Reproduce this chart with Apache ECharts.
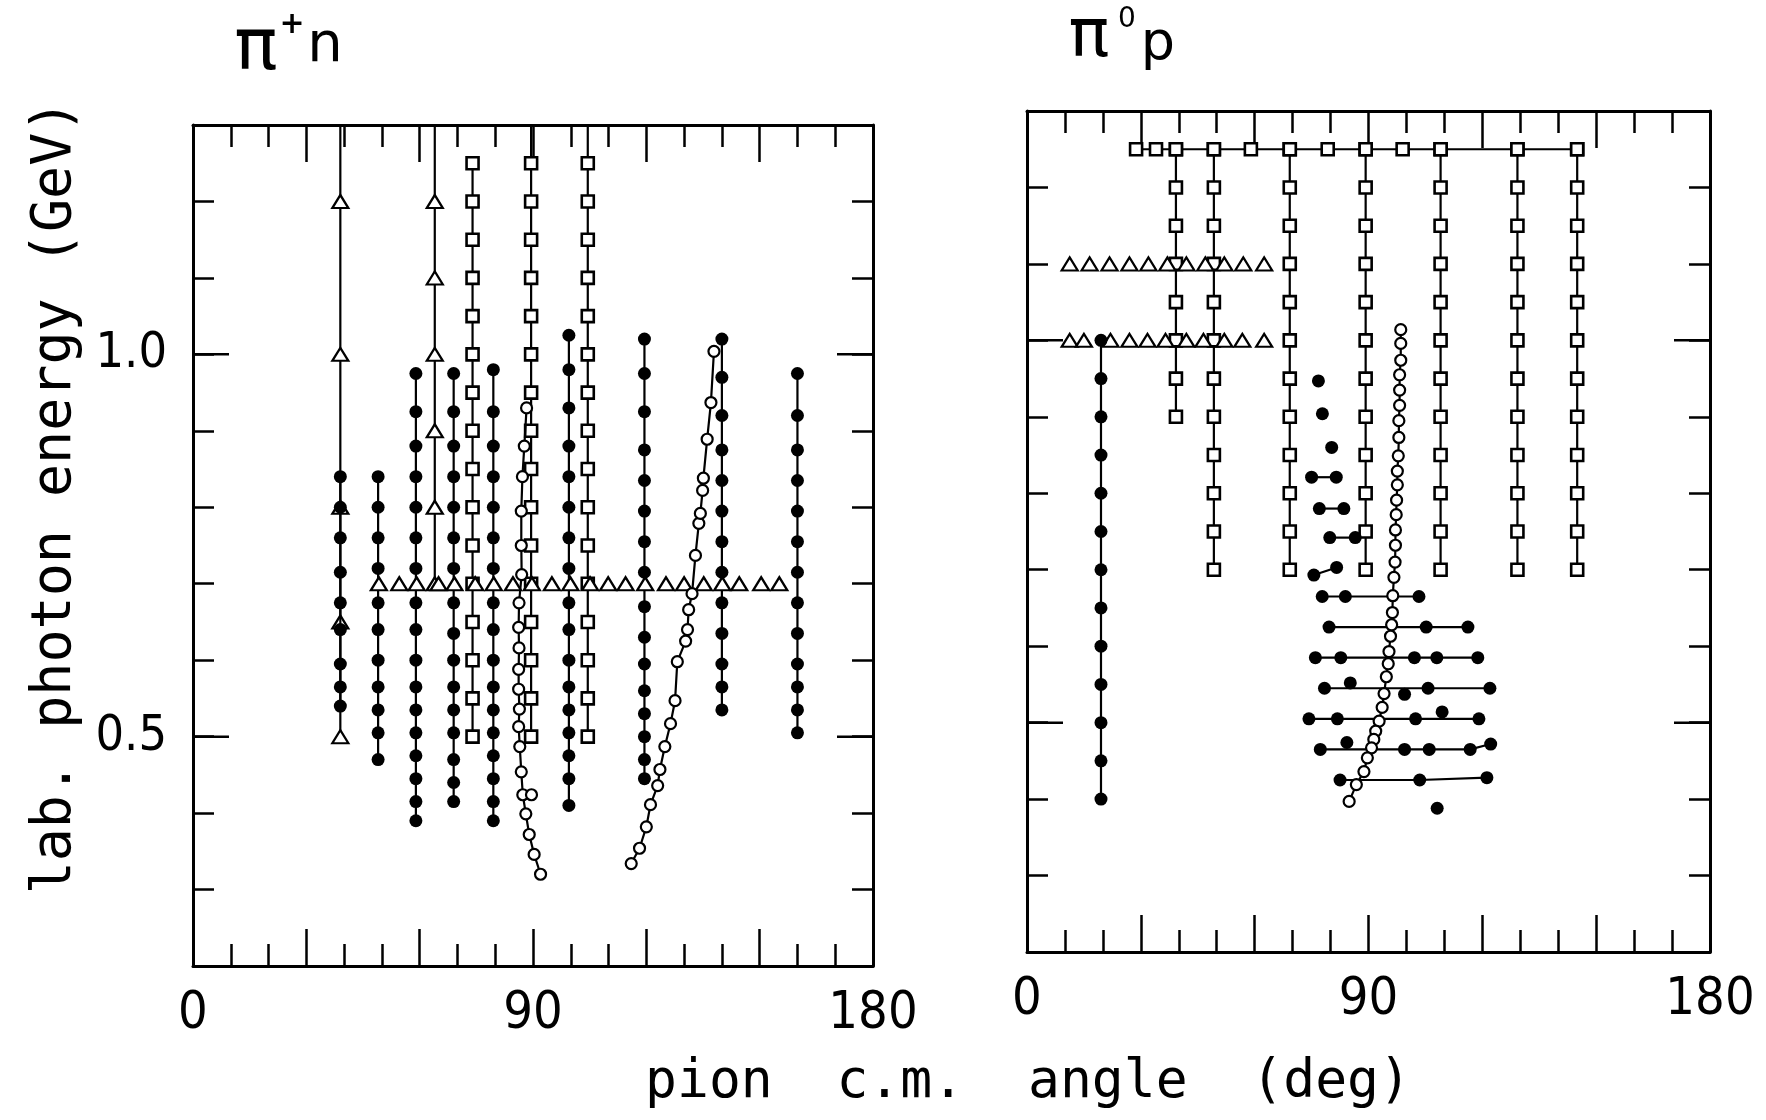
<!DOCTYPE html>
<html><head><meta charset="utf-8">
<script src="https://cdn.jsdelivr.net/npm/echarts@6/dist/echarts.min.js"></script>
<style>html,body{margin:0;padding:0;background:#fff}#c{width:1766px;height:1120px}</style>
</head><body><div id="c"></div>
<script>
// ---------------- tick labels ----------------
const xTickLabels = ['0', '90', '180'];
const xTickValues = [0, 90, 180];
const yTickLabels = ['0.5', '1.0'];
const yTickValues = [0.5, 1.0];
const longTickE = [0.5, 1.0];

// ---------------- pi+ n panel ----------------
const pnFilledAngles = [39, 49, 59, 69, 79.5, 99.5, 119.5, 140, 160];
const pnFilledE = [
  [0.84, 0.80, 0.76, 0.715, 0.675, 0.64, 0.595, 0.565, 0.54],
  [0.84, 0.80, 0.76, 0.72, 0.675, 0.64, 0.60, 0.565, 0.535, 0.505, 0.47],
  [0.975, 0.925, 0.88, 0.84, 0.80, 0.76, 0.72, 0.675, 0.64, 0.60, 0.565, 0.535, 0.505, 0.475, 0.445, 0.415, 0.39],
  [0.975, 0.925, 0.88, 0.84, 0.80, 0.76, 0.72, 0.675, 0.635, 0.60, 0.565, 0.535, 0.505, 0.47, 0.44, 0.415],
  [0.98, 0.925, 0.88, 0.84, 0.80, 0.76, 0.72, 0.675, 0.64, 0.60, 0.565, 0.535, 0.505, 0.475, 0.445, 0.415, 0.39],
  [1.025, 0.98, 0.93, 0.88, 0.84, 0.80, 0.76, 0.72, 0.675, 0.64, 0.60, 0.565, 0.535, 0.505, 0.475, 0.445, 0.41],
  [1.02, 0.975, 0.925, 0.875, 0.835, 0.795, 0.755, 0.715, 0.67, 0.63, 0.595, 0.56, 0.53, 0.50, 0.47, 0.445],
  [1.02, 0.97, 0.92, 0.875, 0.835, 0.795, 0.755, 0.715, 0.675, 0.635, 0.595, 0.565, 0.535],
  [0.975, 0.92, 0.875, 0.835, 0.795, 0.755, 0.715, 0.675, 0.635, 0.595, 0.565, 0.535, 0.505]
];
const pnTriColAngles = [39, 64];
const pnTriColE = [
  [1.2, 1.0, 0.8, 0.65, 0.5],
  [1.2, 1.1, 1.0, 0.9, 0.8, 0.7]
];
const pnSqColAngles = [74, 89.5, 104.5];
const pnSqColReachTop = [false, true, true];
const pnSqE = [1.25, 1.20, 1.15, 1.10, 1.05, 1.00, 0.95, 0.90, 0.85, 0.80, 0.75, 0.70, 0.65, 0.60, 0.55, 0.50];
const pnTriRowE = 0.70;
const pnTriRowAngles = [49.2, 54.6, 59.2, 65.0, 69.2, 74.7, 79.6, 84.7, 89.7, 95.0, 99.9, 105.1, 109.9, 114.5, 119.7, 125.2, 130.0, 135.2, 140.1, 144.6, 150.4, 155.2];
const pnOpenAAngles = [88.3, 87.7, 87.2, 86.9, 86.9, 87.0, 86.3, 86.2, 86.3, 86.2, 86.2, 86.4, 86.2, 86.5, 86.9, 87.3, 88.1, 89.0, 90.3, 92.0];
const pnOpenAE = [0.93, 0.88, 0.84, 0.795, 0.75, 0.712, 0.675, 0.643, 0.616, 0.588, 0.562, 0.536, 0.513, 0.487, 0.454, 0.424, 0.399, 0.372, 0.346, 0.320];
const pnOpenAExtra = [[89.6, 0.424]];
const pnOpenBAngles = [116.0, 118.2, 120.0, 121.1, 123.0, 123.6, 124.9, 126.4, 127.6, 128.2, 130.4, 130.9, 131.2, 132.1, 133.0, 133.9, 134.3, 134.9, 135.1, 136.1, 137.1, 137.9];
const pnOpenBE = [0.334, 0.354, 0.382, 0.411, 0.436, 0.457, 0.487, 0.517, 0.547, 0.598, 0.625, 0.640, 0.666, 0.687, 0.737, 0.779, 0.792, 0.822, 0.838, 0.889, 0.937, 1.004];

// ---------------- pi0 p panel ----------------
const ppSqTopE = 1.25;
const ppSqTopAngles = [28.75, 34.0, 39.25, 49.25, 59.0, 69.25, 79.25, 89.25, 99.0, 109.0, 129.25, 145.0];
const ppSqColAngles = [39.25, 49.25, 69.25, 89.25, 109.0, 129.25, 145.0];
const ppSqColE = [
  [1.25, 1.20, 1.15, 1.10, 1.05, 1.00, 0.95, 0.90],
  [1.25, 1.20, 1.15, 1.10, 1.05, 1.00, 0.95, 0.90, 0.85, 0.80, 0.75, 0.70],
  [1.25, 1.20, 1.15, 1.10, 1.05, 1.00, 0.95, 0.90, 0.85, 0.80, 0.75, 0.70],
  [1.25, 1.20, 1.15, 1.10, 1.05, 1.00, 0.95, 0.90, 0.85, 0.80, 0.75, 0.70],
  [1.25, 1.20, 1.15, 1.10, 1.05, 1.00, 0.95, 0.90, 0.85, 0.80, 0.75, 0.70],
  [1.25, 1.20, 1.15, 1.10, 1.05, 1.00, 0.95, 0.90, 0.85, 0.80, 0.75, 0.70],
  [1.25, 1.20, 1.15, 1.10, 1.05, 1.00, 0.95, 0.90, 0.85, 0.80, 0.75, 0.70]
];
const ppTriRowE = [1.1, 1.0];
const ppTriRowAngles = [
  [11.25, 16.5, 21.75, 27.0, 32.0, 37.0, 42.0, 47.0, 52.0, 57.0, 62.5],
  [11.25, 15.0, 22.0, 27.0, 31.75, 36.5, 42.0, 46.5, 52.0, 56.75, 62.5]
];
const ppFilledColAngle = 19.5;
const ppFilledColE = [1.0, 0.95, 0.90, 0.85, 0.80, 0.75, 0.70, 0.65, 0.60, 0.55, 0.50, 0.45, 0.40];
const ppOpenAngles = [98.5, 98.5, 98.5, 98.2, 98.2, 98.2, 98.0, 98.0, 97.85, 97.6, 97.6, 97.4, 97.3, 97.1, 97.1, 97.0, 96.7, 96.4, 96.3, 96.1, 95.8, 95.4, 95.2, 94.7, 94.1, 93.6, 92.8, 91.9, 91.4, 90.8, 89.7, 88.8, 86.8, 84.9];
const ppOpenE = [1.014, 0.996, 0.974, 0.955, 0.935, 0.915, 0.895, 0.873, 0.849, 0.829, 0.811, 0.791, 0.772, 0.752, 0.732, 0.710, 0.690, 0.666, 0.644, 0.628, 0.613, 0.593, 0.577, 0.560, 0.538, 0.520, 0.502, 0.489, 0.478, 0.467, 0.454, 0.436, 0.419, 0.397];
// filled circles joined by horizontal lines: [angle, E]
const ppFilledRows = [
  [[75.0, 0.821], [81.5, 0.821]],
  [[77.05, 0.780], [83.5, 0.780]],
  [[79.8, 0.742], [86.5, 0.742]],
  [[75.6, 0.693], [81.6, 0.703]],
  [[77.8, 0.665], [83.9, 0.665], [103.3, 0.665]],
  [[79.6, 0.625], [105.2, 0.625], [116.2, 0.625]],
  [[76.0, 0.585], [82.7, 0.585], [102.1, 0.585], [108.0, 0.585], [118.8, 0.585]],
  [[78.4, 0.545], [105.7, 0.545], [122.0, 0.545]],
  [[74.3, 0.505], [81.8, 0.505], [102.4, 0.505], [119.1, 0.505]],
  [[77.3, 0.465], [99.5, 0.465], [106.0, 0.465], [116.8, 0.465], [122.2, 0.472]],
  [[82.5, 0.425], [103.5, 0.425], [121.2, 0.428]]
];
// isolated filled circles: [angle, E]
const ppFilledLone = [[76.8, 0.947], [77.85, 0.904], [80.3, 0.860], [85.2, 0.552], [99.5, 0.537], [109.4, 0.514], [84.3, 0.474], [108.1, 0.388]];

// ---------------- build chart ----------------
const FONT_NUM = '"Liberation Sans Narrow", "DejaVu Sans Condensed", "DejaVu Sans", sans-serif';
const SYM = {
  filled: { symbol: 'circle', symbolSize: 13, itemStyle: { color: '#000' } },
  open: { symbol: 'circle', symbolSize: 11, itemStyle: { color: '#fff', borderColor: '#000', borderWidth: 2.2 } },
  square: { symbol: 'rect', symbolSize: 12, itemStyle: { color: '#fff', borderColor: '#000', borderWidth: 2.6 } },
  tri: { symbol: 'triangle', symbolSize: [16, 13], itemStyle: { color: '#fff', borderColor: '#000', borderWidth: 2.2 } }
};
const series = [];
function add(panel, data, kind, withLine, z) {
  const s = SYM[kind];
  series.push({
    type: withLine ? 'line' : 'scatter',
    xAxisIndex: panel * 2, yAxisIndex: panel * 2,
    data: data,
    symbol: s.symbol, symbolSize: s.symbolSize,
    itemStyle: Object.assign({ opacity: 1 }, s.itemStyle),
    lineStyle: { color: '#000', width: 2.2 },
    showSymbol: true, showAllSymbol: true,
    silent: true, animation: false, emphasis: { disabled: true },
    z: z || 2, clip: false
  });
}
function zip(ang, es) { return es.map(function (e, i) { return [Array.isArray(ang) ? ang[i] : ang, e]; }); }

// pi+ n
pnTriColAngles.forEach(function (a, i) {
  add(0, [{ value: [a, 1.3], symbol: 'none' }].concat(zip(a, pnTriColE[i])), 'tri', true, 2);
});
pnSqColAngles.forEach(function (a, i) {
  const pts = zip(a, pnSqE);
  add(0, pnSqColReachTop[i] ? [{ value: [a, 1.3], symbol: 'none' }].concat(pts) : pts, 'square', true, 2);
});
pnFilledAngles.forEach(function (a, i) { add(0, zip(a, pnFilledE[i]), 'filled', true, 3); });
add(0, zip(pnTriRowAngles, pnTriRowAngles.map(function () { return pnTriRowE; })), 'tri', false, 3);
add(0, zip(pnOpenAAngles, pnOpenAE), 'open', true, 4);
add(0, pnOpenAExtra, 'open', false, 4);
add(0, zip(pnOpenBAngles, pnOpenBE), 'open', true, 4);

// pi0 p
add(1, zip(ppSqTopAngles, ppSqTopAngles.map(function () { return ppSqTopE; })), 'square', true, 2);
ppSqColAngles.forEach(function (a, i) { add(1, zip(a, ppSqColE[i]), 'square', true, 2); });
ppTriRowE.forEach(function (e, i) { add(1, zip(ppTriRowAngles[i], ppTriRowAngles[i].map(function () { return e; })), 'tri', false, 3); });
add(1, zip(ppFilledColAngle, ppFilledColE), 'filled', true, 3);
ppFilledRows.forEach(function (r) { add(1, r, 'filled', true, 3); });
add(1, ppFilledLone, 'filled', false, 3);
add(1, zip(ppOpenAngles, ppOpenE), 'open', true, 4);

// long ticks at 0.5 and 1.0 on both vertical sides
[0, 1].forEach(function (p) {
  series.push({
    type: 'custom', xAxisIndex: p * 2, yAxisIndex: p * 2, silent: true, animation: false, clip: false, z: 5,
    data: longTickE.map(function (e) { return [0, e]; }),
    renderItem: function (params, api) {
      const e = api.value(1);
      const pl = api.coord([0, e]);
      const pr = api.coord([180, e]);
      const st = { stroke: '#000', lineWidth: 2.5 };
      return { type: 'group', children: [
        { type: 'line', shape: { x1: pl[0], y1: pl[1], x2: pl[0] + 36, y2: pl[1] }, style: st },
        { type: 'line', shape: { x1: pr[0] - 36, y1: pr[1], x2: pr[0], y2: pr[1] }, style: st }
      ] };
    }
  });
});

function near(v, arr) { for (let i = 0; i < arr.length; i++) if (Math.abs(v - arr[i]) < 1e-6) return i; return -1; }
function xAxis(g, pos) {
  return {
    gridIndex: g, type: 'value', min: 0, max: 180, interval: 30, position: pos,
    axisLine: { show: true, onZero: false, lineStyle: { color: '#000', width: 3 } },
    axisTick: { show: true, inside: true, length: 37, lineStyle: { color: '#000', width: 2.5 } },
    minorTick: { show: true, splitNumber: 3, length: 22, lineStyle: { color: '#000', width: 2.5 } },
    splitLine: { show: false }, minorSplitLine: { show: false },
    axisLabel: {
      show: pos === 'bottom', margin: 22, color: '#000', fontSize: 52, fontFamily: FONT_NUM,
      formatter: function (v) { const i = near(v, xTickValues); return i < 0 ? '' : xTickLabels[i]; }
    }
  };
}
function yAxis(g, pos, labels) {
  return {
    gridIndex: g, type: 'value', min: 0.2, max: 1.3, interval: 0.1, position: pos,
    axisLine: { show: true, onZero: false, lineStyle: { color: '#000', width: 3 } },
    axisTick: { show: true, inside: true, length: 21, lineStyle: { color: '#000', width: 2.5 } },
    splitLine: { show: false },
    axisLabel: {
      show: labels, margin: 26, color: '#000', fontSize: 50, fontFamily: FONT_NUM,
      formatter: function (v) { const i = near(v, yTickValues); return i < 0 ? '' : yTickLabels[i]; }
    }
  };
}

const TXT = function (x, y, text, font, rot) {
  return { type: 'text', x: x, y: y, rotation: rot || 0, silent: true,
    style: { text: text, font: font, fill: '#000', textAlign: 'center', textVerticalAlign: 'middle', align: 'center', verticalAlign: 'middle' } };
};

const option = {
  backgroundColor: '#fff',
  animation: false,
  grid: [
    { left: 193, top: 125, width: 680, height: 841 },
    { left: 1027, top: 111, width: 683, height: 841 }
  ],
  xAxis: [xAxis(0, 'bottom'), xAxis(0, 'top'), xAxis(1, 'bottom'), xAxis(1, 'top')],
  yAxis: [yAxis(0, 'left', true), yAxis(0, 'right', false), yAxis(1, 'left', false), yAxis(1, 'right', false)],
  series: series,
  graphic: [
    TXT(256, 50, 'π', '72px "DejaVu Sans"'),
    TXT(292, 25, '+', 'bold 30px "DejaVu Sans"'),
    TXT(325, 46, 'n', '56px "DejaVu Sans"'),
    TXT(1089, 38, 'π', '68px "DejaVu Sans"'),
    TXT(1127, 20, '0', '28px "DejaVu Sans"'),
    TXT(1158, 45, 'p', '54px "DejaVu Sans"'),
    TXT(1028, 1083, 'pion  c.m.  angle  (deg)', '53px "DejaVu Sans Mono"'),
    TXT(56, 497, 'lab. photon energy (GeV)', '55px "DejaVu Sans Mono"', Math.PI / 2)
  ]
};
const chart = echarts.init(document.getElementById('c'), null, { renderer: 'canvas' });
chart.setOption(option);
</script>
</body></html>
